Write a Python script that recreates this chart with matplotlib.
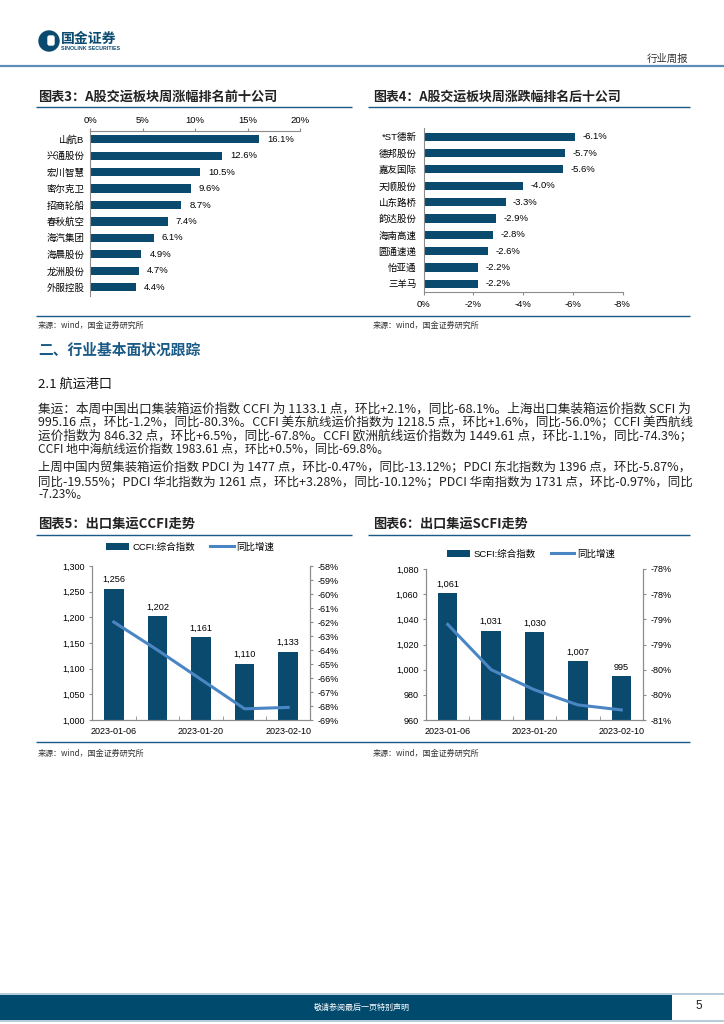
import math

import matplotlib
matplotlib.use("Agg")
import matplotlib.pyplot as plt
import numpy as np
from matplotlib.patches import Rectangle, Circle, FancyBboxPatch
from matplotlib.ticker import FuncFormatter

plt.rcParams['font.family'] = ['Liberation Sans', 'Noto Sans CJK SC', 'DejaVu Sans']

W, H = 724, 1024
BAR = '#0b4a6f'
LINE = '#4a86c4'
NAVY = '#1a5a87'
GRAY = '#8c8c8c'
CJK = ['Noto Sans CJK SC', 'DejaVu Sans']

# 图表3 周涨幅前十
top_names = ["山航B", "兴通股份", "宏川智慧", "密尔克卫", "招商轮船",
             "春秋航空", "海汽集团", "海晨股份", "龙洲股份", "外服控股"]
top_chg = [16.1, 12.6, 10.5, 9.6, 8.7, 7.4, 6.1, 4.9, 4.7, 4.4]

# 图表4 周跌幅后十
bottom_names = ["*ST德新", "德邦股份", "嘉友国际", "天顺股份", "山东路桥",
                "韵达股份", "海南高速", "圆通速递", "怡亚通", "三羊马"]
bottom_chg = [-6.1, -5.7, -5.6, -4.0, -3.3, -2.9, -2.8, -2.6, -2.2, -2.2]

# 图表5/6 集运指数
dates = ["2023-01-06", "2023-01-13", "2023-01-20", "2023-02-03", "2023-02-10"]
ccfi = [1256, 1202, 1161, 1110, 1133]
ccfi_yoy = [-62.0, -64.0, -66.1, -68.2, -68.1]
scfi = [1061, 1031, 1030, 1007, 995]
scfi_yoy = [-78.6, -79.5, -79.9, -80.2, -80.3]

para1 = [
    "集运：本周中国出口集装箱运价指数 CCFI 为 1133.1 点，环比+2.1%，同比-68.1%。上海出口集装箱运价指数 SCFI 为",
    "995.16 点，环比-1.2%，同比-80.3%。CCFI 美东航线运价指数为 1218.5 点，环比+1.6%，同比-56.0%；CCFI 美西航线",
    "运价指数为 846.32 点，环比+6.5%，同比-67.8%。CCFI 欧洲航线运价指数为 1449.61 点，环比-1.1%，同比-74.3%；",
    "CCFI 地中海航线运价指数 1983.61 点，环比+0.5%，同比-69.8%。",
]
para2 = [
    "上周中国内贸集装箱运价指数 PDCI 为 1477 点，环比-0.47%，同比-13.12%；PDCI 东北指数为 1396 点，环比-5.87%，",
    "同比-19.55%；PDCI 华北指数为 1261 点，环比+3.28%，同比-10.12%；PDCI 华南指数为 1731 点，环比-0.97%，同比",
    "-7.23%。",
]

fig = plt.figure(figsize=(W / 100, H / 100), dpi=100)
bg = fig.add_axes([0, 0, 1, 1])
bg.set_xlim(0, W)
bg.set_ylim(H, 0)
bg.axis('off')
renderer = fig.canvas.get_renderer()


def put(x, y, s, size, width=None, **kw):
    kw.setdefault('family', CJK)
    kw.setdefault('va', 'center')
    t = bg.text(x, y, s, fontsize=size, **kw)
    if width:
        w = t.get_window_extent(renderer).width
        t.set_fontsize(size * width / w)
    return t


def hline(y, x0, x1, color=NAVY, lw=1.0):
    bg.plot([x0, x1], [y, y], color=color, lw=lw, solid_capstyle='butt')


def px_axes(x0, y0, x1, y1):
    return fig.add_axes([x0 / W, 1 - y1 / H, (x1 - x0) / W, (y1 - y0) / H])


# ---- header ----
bg.add_patch(Circle((49, 41), 10, color='#0b4a6f'))
bg.add_patch(FancyBboxPatch((48, 36), 6, 9, boxstyle='round,pad=0,rounding_size=1.5',
                            color='white'))
put(61, 39, "国金证券", 10, color='#0b4a6f', weight='bold')
put(61, 49, "SINOLINK SECURITIES", 3.8, color='#0b4a6f', weight='bold',
    family=['Liberation Sans'])
put(688, 59, "行业周报", 7.5, ha='right', color='#333333')
hline(66, 0, W, color='#5b8db8', lw=1.6)

# ---- chart titles row 1 ----
put(38, 97, "图表3：A股交运板块周涨幅排名前十公司", 8.5, width=239, weight='bold', color='#222222')
put(373, 97, "图表4：A股交运板块周涨跌幅排名后十公司", 8.5, width=248, weight='bold', color='#222222')
hline(107, 36, 352)
hline(107, 368, 690)

# ---- chart 3 ----
ax3 = px_axes(90, 131, 300, 295.5)
pos = list(range(len(top_names)))
ax3.barh(pos, top_chg, height=0.5, color=BAR)
ax3.set_xlim(0, 20)
ax3.set_ylim(9.5, -0.5)
ax3.xaxis.tick_top()
ax3.set_xticks([0, 5, 10, 15, 20])
ax3.xaxis.set_major_formatter(FuncFormatter(lambda v, _: f"{v:.0f}%"))
ax3.set_yticks(pos)
ax3.set_yticklabels(top_names)
for s in ['right', 'bottom']:
    ax3.spines[s].set_visible(False)
for s in ['top', 'left']:
    ax3.spines[s].set_color(GRAY)
    ax3.spines[s].set_linewidth(0.8)
ax3.tick_params(axis='x', length=2.5, color=GRAY, labelsize=6.8, pad=1.5)
ax3.tick_params(axis='y', length=0, labelsize=6.8, pad=4)
for i, v in enumerate(top_chg):
    ax3.text(v + 0.75, i, f"{v:.1f}%", va='center', fontsize=6.8)

# ---- chart 4 ----
ax4 = px_axes(423.5, 128.5, 622.5, 292)
ax4.barh(pos, bottom_chg, height=0.5, color=BAR)
ax4.set_xlim(0, -8)
ax4.set_ylim(9.5, -0.5)
ax4.set_xticks([0, -2, -4, -6, -8])
ax4.xaxis.set_major_formatter(FuncFormatter(lambda v, _: f"{v:.0f}%"))
ax4.set_yticks(pos)
ax4.set_yticklabels(bottom_names)
for s in ['right', 'top']:
    ax4.spines[s].set_visible(False)
for s in ['bottom', 'left']:
    ax4.spines[s].set_color(GRAY)
    ax4.spines[s].set_linewidth(0.8)
ax4.tick_params(axis='x', length=2.5, color=GRAY, labelsize=6.8, pad=3)
ax4.tick_params(axis='y', length=0, labelsize=6.8, pad=5)
for i, v in enumerate(bottom_chg):
    ax4.text(v - 0.3, i, f"{v:.1f}%", va='center', fontsize=6.8)

hline(316, 36, 690, lw=1.0)
put(38, 325, "来源：wind，国金证券研究所", 5.8, color='#333333')
put(373, 325, "来源：wind，国金证券研究所", 5.8, color='#333333')

# ---- section text ----
put(38, 350, "二、行业基本面状况跟踪", 11, width=162, weight='bold', color=NAVY)
put(38, 384, "2.1 航运港口", 8.8, width=74, color='#111111')

y = 409
for k, ln in enumerate(para1):
    last = k == len(para1) - 1
    put(38, y, ln, 8.6, width=None if last else 652, color='#222222')
    y += 13.3
y += 6
for k, ln in enumerate(para2):
    last = k == len(para2) - 1
    put(38, y, ln, 8.6, width=None if last else 652, color='#222222')
    y += 13.3

# ---- chart titles row 2 ----
put(38, 524, "图表5：出口集运CCFI走势", 8.5, width=157, weight='bold', color='#222222')
put(373, 524, "图表6：出口集运SCFI走势", 8.5, width=155, weight='bold', color='#222222')
hline(535, 36, 352)
hline(535, 368, 690)


def index_chart(box, vals, yoy, lims, step, rlims, rticks, rfmt, name, leg_xy, gap):
    ax = px_axes(*box)
    x = list(range(len(vals)))
    bars = ax.bar(x, vals, width=0.45, color=BAR, label=name)
    ax.set_xlim(-0.5, len(vals) - 0.5)
    ax.set_ylim(*lims)
    ax.set_yticks(np.arange(lims[0], lims[1] + 1, step))
    ax.yaxis.set_major_formatter(FuncFormatter(lambda v, _: f"{v:,.0f}"))
    ax.set_xticks([0, 2, 4])
    ax.set_xticklabels([dates[0], dates[2], dates[4]])
    ax.set_xticks([0.5, 1.5, 2.5, 3.5], minor=True)
    ax.tick_params(axis='x', which='major', length=0, pad=5, labelsize=6.5)
    ax.tick_params(axis='x', which='minor', length=3, direction='in', color=GRAY)
    ax.tick_params(axis='y', length=2.5, color=GRAY, labelsize=6.5, pad=3)
    for i, v in enumerate(vals):
        ax.text(i, v + gap, f"{v:,}", ha='center', va='bottom', fontsize=6.6)
    axr = ax.twinx()
    ln, = axr.plot(x, yoy, color=LINE, lw=2.2, label='同比增速')
    axr.set_ylim(*rlims)
    axr.set_yticks(rticks)
    axr.yaxis.set_major_formatter(FuncFormatter(rfmt))
    axr.tick_params(axis='y', length=2.5, color=GRAY, labelsize=6.5, pad=3)
    for a in (ax, axr):
        a.spines['top'].set_visible(False)
        for s in ['left', 'right', 'bottom']:
            a.spines[s].set_color(GRAY)
            a.spines[s].set_linewidth(0.8)
    ax.legend([bars, ln], [name, '同比增速'], loc='center', ncol=2,
              bbox_to_anchor=(leg_xy[0] / W, 1 - leg_xy[1] / H),
              bbox_transform=fig.transFigure, frameon=False, fontsize=6.8,
              handlelength=2.5, handleheight=0.75, handletextpad=0.3,
              columnspacing=1.6, borderaxespad=0)
    return ax


index_chart((92, 566, 310, 720), ccfi, ccfi_yoy, (1000, 1300), 50,
            (-69, -58), list(range(-69, -57)), lambda v, _: f"{v:.0f}%",
            'CCFI:综合指数', (190, 547), 9)
index_chart((426, 569, 643, 720), scfi, scfi_yoy, (960, 1080), 20,
            (-80.5, -77.5), list(np.arange(-80.5, -77.4, 0.5)),
            lambda v, _: f"-{math.floor(abs(v) + 0.5)}%",
            'SCFI:综合指数', (531, 554), 3.5)

hline(742, 36, 690, lw=1.0)
put(38, 753, "来源：wind，国金证券研究所", 5.8, color='#333333')
put(373, 753, "来源：wind，国金证券研究所", 5.8, color='#333333')

# ---- footer ----
hline(993.5, 0, W, color='#a9c3d6', lw=1.2)
hline(1020.5, 0, W, color='#a9c3d6', lw=1.2)
bg.add_patch(Rectangle((0, 994.5), 672, 25, color='#004a6e', lw=0))
put(362, 1007, "敬请参阅最后一页特别声明", 5.8, ha='center', color='white')
put(699, 1006, "5", 8.5, ha='center', color='#222222', family=['Liberation Sans'])

fig.savefig("out.png", dpi=100)
